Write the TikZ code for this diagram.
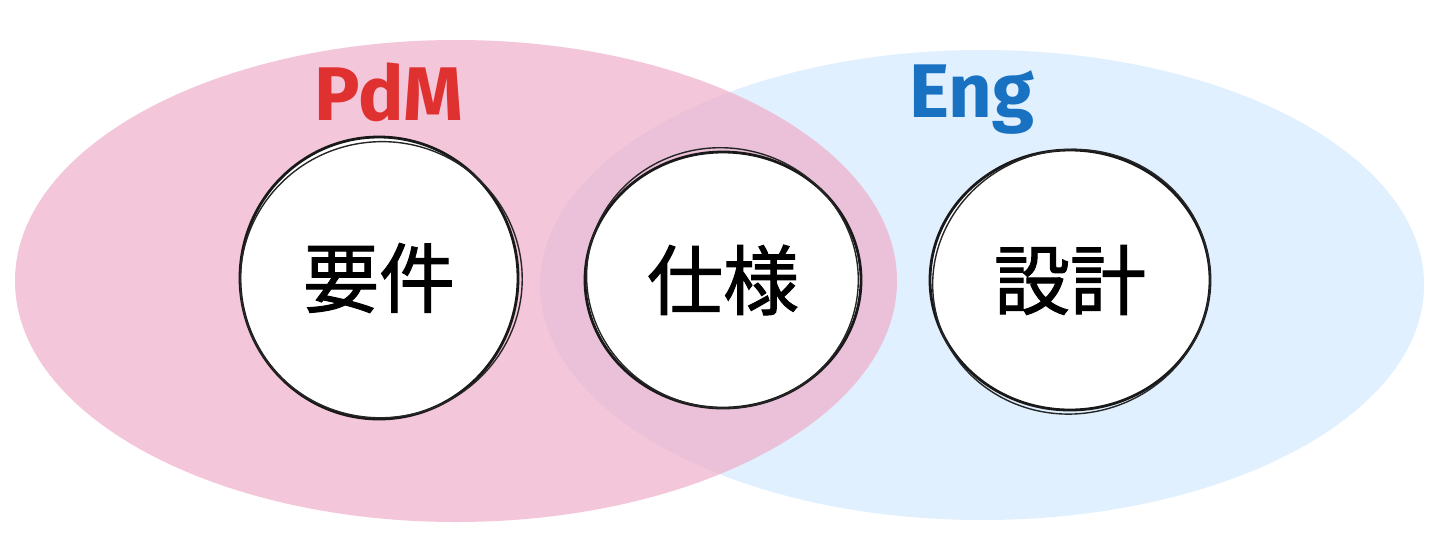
\documentclass[tikz,border=0pt]{standalone}
\usepackage{fontspec}
\setmainfont{Noto Sans CJK JP}
\newfontfamily\taskfont[FakeBold=1.3]{Noto Sans CJK JP}
\newfontfamily\labelfont{Fira Sans}
\usepackage{tikz}
\usetikzlibrary{shapes.geometric}

\definecolor{pdmfill}{RGB}{240,172,200}
\definecolor{engfill}{RGB}{224,240,254}
\definecolor{pdmtext}{RGB}{224,49,49}
\definecolor{engtext}{RGB}{25,113,194}

\begin{document}
\begin{tikzpicture}[
  x=0.5pt, y=-0.5pt,
  area/.style={ellipse, draw=none, inner sep=0pt},
  task/.style={ellipse, draw=black!90, fill=white, line width=1.4pt,
               inner sep=0pt, font=\taskfont\fontsize{38}{42}\selectfont},
  sketch/.style={line width=0.7pt, black!85},
  team/.style={font=\labelfont\fontsize{38}{42}\selectfont\bfseries}]

% ---- canvas: 1440 x 553 px, y grows downward -----------------------------
\useasboundingbox[fill=white] (0,0) rectangle (1440,553);

% ======================= the two areas ====================================
\node[area, fill=engfill, minimum width=442pt, minimum height=235pt]
  (engArea) at (982,285) {};
\node[area, fill=pdmfill, fill opacity=0.68, minimum width=441pt, minimum height=241pt]
  (pdmArea) at (456,281) {};

\node[team, text=pdmtext] (pdmLabel) at (389,92) {PdM};
\node[team, text=engtext] (engLabel) at (972,100) {Eng};

% ======================= the three tasks ==================================
\node[task, minimum width=139pt, minimum height=141pt] (reqNode)    at (379,278) {要件};
\node[task, minimum width=138pt, minimum height=128pt] (specNode)   at (723,280) {仕様};
\node[task, minimum width=140pt, minimum height=130pt] (designNode) at (1070,280) {設計};

% second pencil stroke round each circle
\draw[sketch, rotate around={8:(reqNode.center)}]
  ([xshift=1pt,yshift=-1pt]reqNode.center) ellipse (70.5pt and 69pt);
\draw[sketch, rotate around={-10:(specNode.center)}]
  ([xshift=-0.5pt,yshift=1pt]specNode.center) ellipse (68pt and 65pt);
\draw[sketch, rotate around={12:(designNode.center)}]
  ([xshift=0.5pt,yshift=-1pt]designNode.center) ellipse (69.5pt and 66pt);

\end{tikzpicture}
\end{document}
